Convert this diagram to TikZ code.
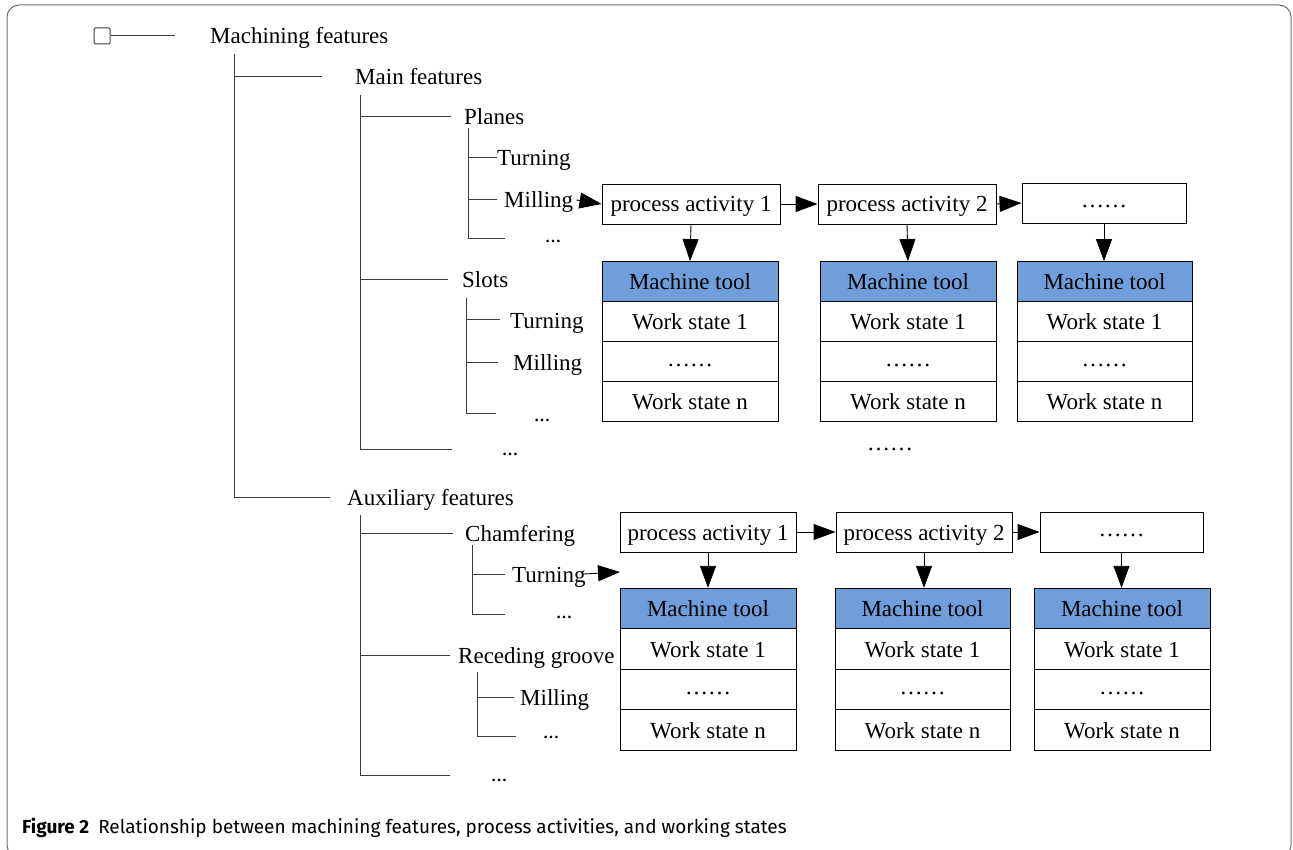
\documentclass[tikz,border=0pt]{standalone}
\usepackage{fontspec}
\setmainfont{Liberation Serif}
\newfontfamily\capfont{Fira Sans}
\usetikzlibrary{arrows.meta}
\definecolor{hdrblue}{RGB}{111,158,218}
\definecolor{treegray}{RGB}{60,60,60}
\definecolor{framegray}{RGB}{110,110,110}
\newcommand\dfont{\fontsize{23}{25}\selectfont}
\begin{document}
\begin{tikzpicture}[x=1pt,y=-1pt,
  lbl/.style={anchor=west, inner sep=0pt, font=\dfont, text height=18pt, text depth=2pt},
  tdots/.style={anchor=base, inner sep=0pt, font=\fontsize{16}{17}\selectfont\bfseries},
  pbox/.style={draw=black, line width=0.9pt, minimum height=40pt, inner sep=0pt, font=\dfont, text height=16pt, text depth=0pt},
  cell/.style={draw=black, line width=0.9pt, minimum height=40.5pt, inner sep=0pt, font=\dfont, text height=16pt, text depth=0pt},
  dotc/.style={text height=9pt, text depth=0pt},
  hdr/.style={cell, fill=hdrblue},
  arr/.style={-{Triangle[length=22pt,width=16pt]}, line width=0.9pt},
  tl/.style={draw=treegray, line width=1pt}]
\useasboundingbox (0,0) rectangle (1293,850);
\draw[framegray, line width=1pt, rounded corners=12pt] (7,5) rectangle (1291,857);

% ---------- tree texts ----------
\node[lbl] (mach) at (210,36) {Machining features};
\node[lbl] (mainf) at (355,77) {Main features};
\node[lbl] (planes) at (464,117) {Planes};
\node[lbl] (pturn) at (497,158) {Turning};
\node[lbl] (pmill) at (504,200) {Milling};
\node[tdots] (pdots) at (553,243) {…};
\node[lbl] (slots) at (462,280) {Slots};
\node[lbl] (sturn) at (510,320) {Turning};
\node[lbl] (smill) at (513,362) {Milling};
\node[tdots] (sdots) at (542,421) {…};
\node[tdots] (mdots) at (510,455) {…};
\node[lbl] (auxf) at (347,497) {Auxiliary features};
\node[lbl] (chamf) at (465,533) {Chamfering};
\node[lbl] (cturn) at (512,574) {Turning};
\node[tdots] (cdots) at (564,618) {…};
\node[lbl] (reced) at (458,655) {Receding groove};
\node[lbl] (rmill) at (520,697) {Milling};
\node[tdots] (rdots) at (551,738) {…};
\node[tdots] (adots) at (499,781) {…};

% ---------- tree lines ----------
\node[draw=treegray, line width=1pt, minimum size=16pt, inner sep=0pt, rounded corners=1pt] (root) at (102,36) {};
\coordinate (rootend) at (175,36);
\draw[tl] (root.east) -- (rootend);

\coordinate (v1) at (234,54);
\draw[tl] (v1) -- (v1 |- auxf.west);
\draw[tl] (v1 |- mainf.west) -- ([xshift=-33pt]mainf.west);
\draw[tl] (v1 |- auxf.west) -- ([xshift=-17pt]auxf.west);

\coordinate (v2) at (360,95);
\coordinate (v2b) at (360,449);
\draw[tl] (v2) -- (v2b);
\draw[tl] (v2 |- planes.west) -- ([xshift=-13pt]planes.west);
\draw[tl] (v2 |- slots.west) -- ([xshift=-14pt]slots.west);
\coordinate (v2e) at (452,449);
\draw[tl] (v2b) -- (v2e);

\coordinate (v3) at (468,128);
\coordinate (v3b) at (468,239);
\draw[tl] (v3) -- (v3b);
\draw[tl] (v3 |- pturn.west) -- (pturn.west);
\draw[tl] (v3 |- pmill.west) -- ([xshift=-7pt]pmill.west);
\coordinate (v3e) at (505,239);
\draw[tl] (v3b) -- (v3e);

\coordinate (v4) at (466,298);
\coordinate (v4b) at (466,413);
\draw[tl] (v4) -- (v4b);
\draw[tl] (v4 |- sturn.west) -- ([xshift=-10pt]sturn.west);
\draw[tl] (v4 |- smill.west) -- ([xshift=-15pt]smill.west);
\coordinate (v4e) at (496,413);
\draw[tl] (v4b) -- (v4e);

\coordinate (v5) at (360,515);
\coordinate (v5b) at (360,775);
\draw[tl] (v5) -- (v5b);
\draw[tl] (v5 |- chamf.west) -- ([xshift=-12pt]chamf.west);
\draw[tl] (v5 |- reced.west) -- ([xshift=-8pt]reced.west);
\coordinate (v5e) at (450,775);
\draw[tl] (v5b) -- (v5e);

\coordinate (v6) at (472,545);
\coordinate (v6b) at (472,614);
\draw[tl] (v6) -- (v6b);
\draw[tl] (v6 |- cturn.west) -- ([xshift=-7pt]cturn.west);
\coordinate (v6e) at (505,614);
\draw[tl] (v6b) -- (v6e);

\coordinate (v7) at (477,672);
\coordinate (v7b) at (477,736);
\draw[tl] (v7) -- (v7b);
\draw[tl] (v7 |- rmill.west) -- ([xshift=-6pt]rmill.west);
\coordinate (v7e) at (516,736);
\draw[tl] (v7b) -- (v7e);

% ---------- upper process row ----------
\node[pbox, minimum width=178pt] (pa1) at (691,204) {process activity 1};
\node[pbox, minimum width=178pt] (pa2) at (907,204) {process activity 2};
\node[pbox, dotc, minimum width=164pt] (pa3) at (1104,203) {……};

\foreach \n/\x/\w in {a/690/176, b/908/176, c/1104.5/175}{
  \node[hdr,  minimum width=\w pt, minimum height=40pt] (\n1) at (\x,281.5) {Machine tool};
  \node[cell, minimum width=\w pt, minimum height=40pt] (\n2) at (\x,321.5) {Work state 1};
  \node[cell, dotc, minimum width=\w pt, minimum height=40pt] (\n3) at (\x,361.5) {……};
  \node[cell, minimum width=\w pt, minimum height=40pt] (\n4) at (\x,401.5) {Work state n};
}
\node[font=\dfont, inner sep=0pt, dotc] (udots) at (890,446) {……};

\draw[arr] ([xshift=3pt]pmill.east) -- (pa1.west);
\draw[arr] (pa1.east) -- (pa2.west);
\draw[arr] (pa2.east) -- (pa3.west);
\draw[arr] (pa1.south) -- (a1.north);
\draw[arr] (pa2.south) -- (b1.north);
\draw[arr] (pa3.south) -- (pa3.south |- c1.north);

% ---------- lower process row ----------
\node[pbox, minimum width=176pt] (qa1) at (708,532) {process activity 1};
\node[pbox, minimum width=176pt] (qa2) at (924,532) {process activity 2};
\node[pbox, dotc, minimum width=163pt] (qa3) at (1121.5,532) {……};

\foreach \n/\x/\w in {d/708/176, e/922.5/175, f/1122/176}{
  \node[hdr,  minimum width=\w pt] (\n1) at (\x,608.5) {Machine tool};
  \node[cell, minimum width=\w pt] (\n2) at (\x,649) {Work state 1};
  \node[cell, dotc, minimum width=\w pt] (\n3) at (\x,689.5) {……};
  \node[cell, minimum width=\w pt] (\n4) at (\x,730) {Work state n};
}

\coordinate (tarrow) at (620,572);
\draw[arr] ([xshift=-2pt]cturn.east) -- (tarrow);
\draw[arr] (qa1.east) -- (qa2.west);
\draw[arr] (qa2.east) -- (qa3.west);
\draw[arr] (qa1.south) -- (d1.north);
\draw[arr] (qa2.south) -- (qa2.south |- e1.north);
\draw[arr] (qa3.south) -- (qa3.south |- f1.north);

% ---------- caption ----------
\node[anchor=base west, inner sep=0pt, font=\capfont\fontsize{19}{21}\selectfont] (cap) at (22,833)
  {\textbf{Figure 2}\hspace{9pt}Relationship between machining features, process activities, and working states};
\end{tikzpicture}
\end{document}
